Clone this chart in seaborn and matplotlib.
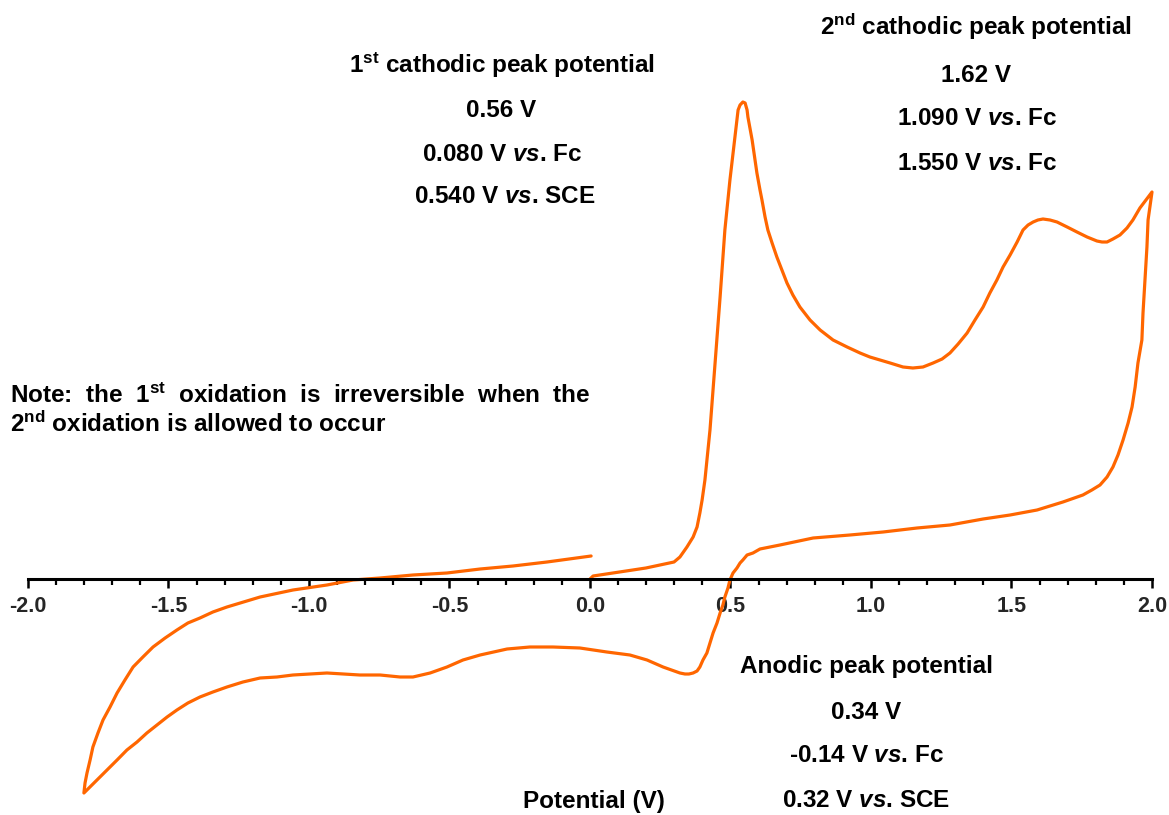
import matplotlib
matplotlib.use("Agg")
import matplotlib.pyplot as plt
import seaborn as sns
import pandas as pd
from matplotlib.ticker import MultipleLocator, FormatStrFormatter

# forward scan 0 -> 2.0 V (potential in V, current in arbitrary units)
fwd_v = [0.000, 0.011, 0.082, 0.199, 0.299, 0.320, 0.345, 0.367, 0.381, 0.391, 0.399,
         0.409, 0.427, 0.445, 0.463, 0.480, 0.498, 0.516, 0.523, 0.527, 0.534, 0.544,
         0.552, 0.559, 0.562, 0.577, 0.594, 0.605, 0.612, 0.623, 0.633, 0.648, 0.665,
         0.683, 0.701, 0.722, 0.747, 0.783, 0.819, 0.865, 0.915, 0.961, 0.996, 1.032,
         1.068, 1.114, 1.149, 1.185, 1.221, 1.253, 1.281, 1.310, 1.342, 1.370, 1.399,
         1.423, 1.448, 1.470, 1.495, 1.520, 1.541, 1.559, 1.577, 1.594, 1.612, 1.637,
         1.662, 1.698, 1.733, 1.769, 1.804, 1.822, 1.840, 1.861, 1.886, 1.911, 1.932,
         1.957, 2.000]
fwd_i = [0.0, 0.3, 0.6, 1.1, 1.7, 2.2, 3.2, 4.2, 5.2, 6.6, 7.9,
         9.9, 14.9, 21.6, 28.2, 34.9, 39.9, 44.2, 45.9, 46.9, 47.4, 47.7,
         47.6, 46.9, 46.2, 43.9, 40.6, 38.9, 37.9, 36.2, 34.9, 33.6, 32.2,
         30.9, 29.6, 28.4, 27.2, 25.9, 24.9, 23.9, 23.2, 22.6, 22.2, 21.9,
         21.6, 21.2, 21.1, 21.2, 21.6, 22.0, 22.6, 23.5, 24.6, 25.9, 27.2,
         28.6, 29.9, 31.2, 32.4, 33.7, 34.9, 35.4, 35.7, 35.9, 36.0, 35.9,
         35.7, 35.2, 34.7, 34.2, 33.8, 33.7, 33.7, 34.0, 34.4, 35.1, 35.9,
         37.1, 38.7]

# reverse scan 2.0 -> -1.8 V
rev_v = [1.986, 1.982, 1.975, 1.968, 1.964, 1.950, 1.940, 1.929, 1.915, 1.897, 1.879,
         1.861, 1.840, 1.815, 1.786, 1.754, 1.683, 1.591, 1.495, 1.399, 1.281, 1.164,
         1.043, 0.925, 0.794, 0.676, 0.605, 0.580, 0.559, 0.544, 0.534, 0.523, 0.509,
         0.498, 0.491, 0.480, 0.473, 0.463, 0.452, 0.438, 0.427, 0.416, 0.402, 0.391,
         0.381, 0.367, 0.352, 0.338, 0.320, 0.310, 0.260, 0.203, 0.142, 0.060, -0.036,
         -0.132, -0.214, -0.295, -0.391, -0.452, -0.509, -0.569, -0.630, -0.676, -0.747,
         -0.819, -0.936, -0.996, -1.057, -1.114, -1.174, -1.235, -1.292, -1.342, -1.388,
         -1.431, -1.470, -1.505, -1.541, -1.577, -1.612, -1.648, -1.683, -1.744, -1.801]
rev_i = [35.9, 33.2, 29.9, 26.6, 23.9, 21.6, 19.2, 17.2, 15.6, 13.9, 12.4,
         11.2, 10.2, 9.4, 8.9, 8.4, 7.7, 6.9, 6.4, 6.0, 5.4, 5.1,
         4.7, 4.4, 4.1, 3.4, 3.0, 2.6, 2.4, 1.9, 1.6, 1.1, 0.6,
         -0.1, -0.9, -1.8, -2.6, -3.4, -4.4, -5.4, -6.4, -7.4, -8.1, -8.8,
         -9.2, -9.4, -9.5, -9.5, -9.4, -9.3, -8.8, -8.1, -7.6, -7.3, -6.9,
         -6.8, -6.8, -7.0, -7.6, -8.1, -8.8, -9.4, -9.8, -9.8, -9.6,
         -9.6, -9.4, -9.5, -9.6, -9.8, -9.9, -10.3, -10.8, -11.3, -11.8,
         -12.4, -13.1, -13.8, -14.6, -15.4, -16.3, -17.1, -18.1, -19.8, -21.4]

# return scan -1.8 -> 0 V
ret_v = [-1.797, -1.790, -1.779, -1.769, -1.751, -1.733, -1.708, -1.683, -1.655, -1.626,
         -1.591, -1.555, -1.512, -1.470, -1.431, -1.388, -1.342, -1.292, -1.174, -1.057,
         -0.936, -0.843, -0.747, -0.630, -0.509, -0.391, -0.274, -0.153, 0.004]
ret_i = [-20.4, -19.4, -18.1, -16.8, -15.4, -14.1, -12.8, -11.4, -10.1, -8.8,
         -7.8, -6.8, -5.9, -5.1, -4.4, -3.9, -3.3, -2.8, -1.8, -1.1,
         -0.6, -0.1, 0.1, 0.4, 0.6, 1.0, 1.3, 1.7, 2.3]

df = pd.DataFrame({
    "potential": fwd_v + rev_v + ret_v,
    "current": fwd_i + rev_i + ret_i,
})

W, H = 1169, 815
sns.set_theme(style="white")
plt.rcParams["font.family"] = ["Liberation Sans", "DejaVu Sans"]
plt.rcParams["axes.unicode_minus"] = False
plt.rcParams["mathtext.fontset"] = "custom"
plt.rcParams["mathtext.rm"] = "Liberation Sans:bold"
plt.rcParams["mathtext.bf"] = "Liberation Sans:bold"
plt.rcParams["mathtext.it"] = "Liberation Sans:bold:italic"

fig = plt.figure(figsize=(W / 100, H / 100), dpi=100)
ax = fig.add_axes([0, 0, 1, 1])

sns.lineplot(data=df, x="potential", y="current", sort=False, estimator=None,
             color="#FF6600", linewidth=2.3, ax=ax)

ax.set_xlim(-2.0996, 2.0605)
ax.set_ylim(-23.6, 57.9)
for s in ["left", "right", "top"]:
    ax.spines[s].set_visible(False)
ax.spines["bottom"].set_position(("data", 0))
ax.spines["bottom"].set_bounds(-2.0, 2.0)
ax.spines["bottom"].set_linewidth(2.2)
ax.spines["bottom"].set_color("black")
ax.set_yticks([])
ax.xaxis.set_major_locator(MultipleLocator(0.5))
ax.xaxis.set_minor_locator(MultipleLocator(0.1))
ax.xaxis.set_major_formatter(FormatStrFormatter("%.1f"))
ax.tick_params(axis="x", which="major", direction="out", length=6.5, width=1.8,
               color="black", pad=6, labelsize=15.5, bottom=True)
ax.tick_params(axis="x", which="minor", direction="out", length=4, width=1.6,
               color="black", bottom=True)
for lab in ax.get_xticklabels():
    lab.set_fontweight("bold")
ax.set_xlabel("")
ax.set_ylabel("")
ax.patch.set_alpha(0)


def txt(x, y, s, ha="center", size=17.5):
    fig.text(x / W, 1 - y / H, s, ha=ha, va="baseline", fontsize=size,
             fontweight="bold", color="black")


txt(502, 73, r"1$^{\mathrm{st}}$ cathodic peak potential")
txt(501, 117, "0.56 V")
txt(502, 161, r"0.080 V $\mathit{vs}$. Fc")
txt(505, 203, r"0.540 V $\mathit{vs}$. SCE")

txt(976, 35, r"2$^{\mathrm{nd}}$ cathodic peak potential")
txt(976, 82, "1.62 V")
txt(977, 125, r"1.090 V $\mathit{vs}$. Fc")
txt(977, 170, r"1.550 V $\mathit{vs}$. Fc")

txt(866, 673, "Anodic peak potential")
txt(866, 719, "0.34 V")
txt(866, 762, r"-0.14 V $\mathit{vs}$. Fc")
txt(866, 807, r"0.32 V $\mathit{vs}$. SCE")

txt(594, 808, "Potential (V)")

txt(10, 403, r"Note:  the  1$^{\mathrm{st}}$  oxidation  is  irreversible  when  the", ha="left")
txt(10, 432, r"2$^{\mathrm{nd}}$ oxidation is allowed to occur", ha="left")

fig.savefig("out.png", dpi=100)
